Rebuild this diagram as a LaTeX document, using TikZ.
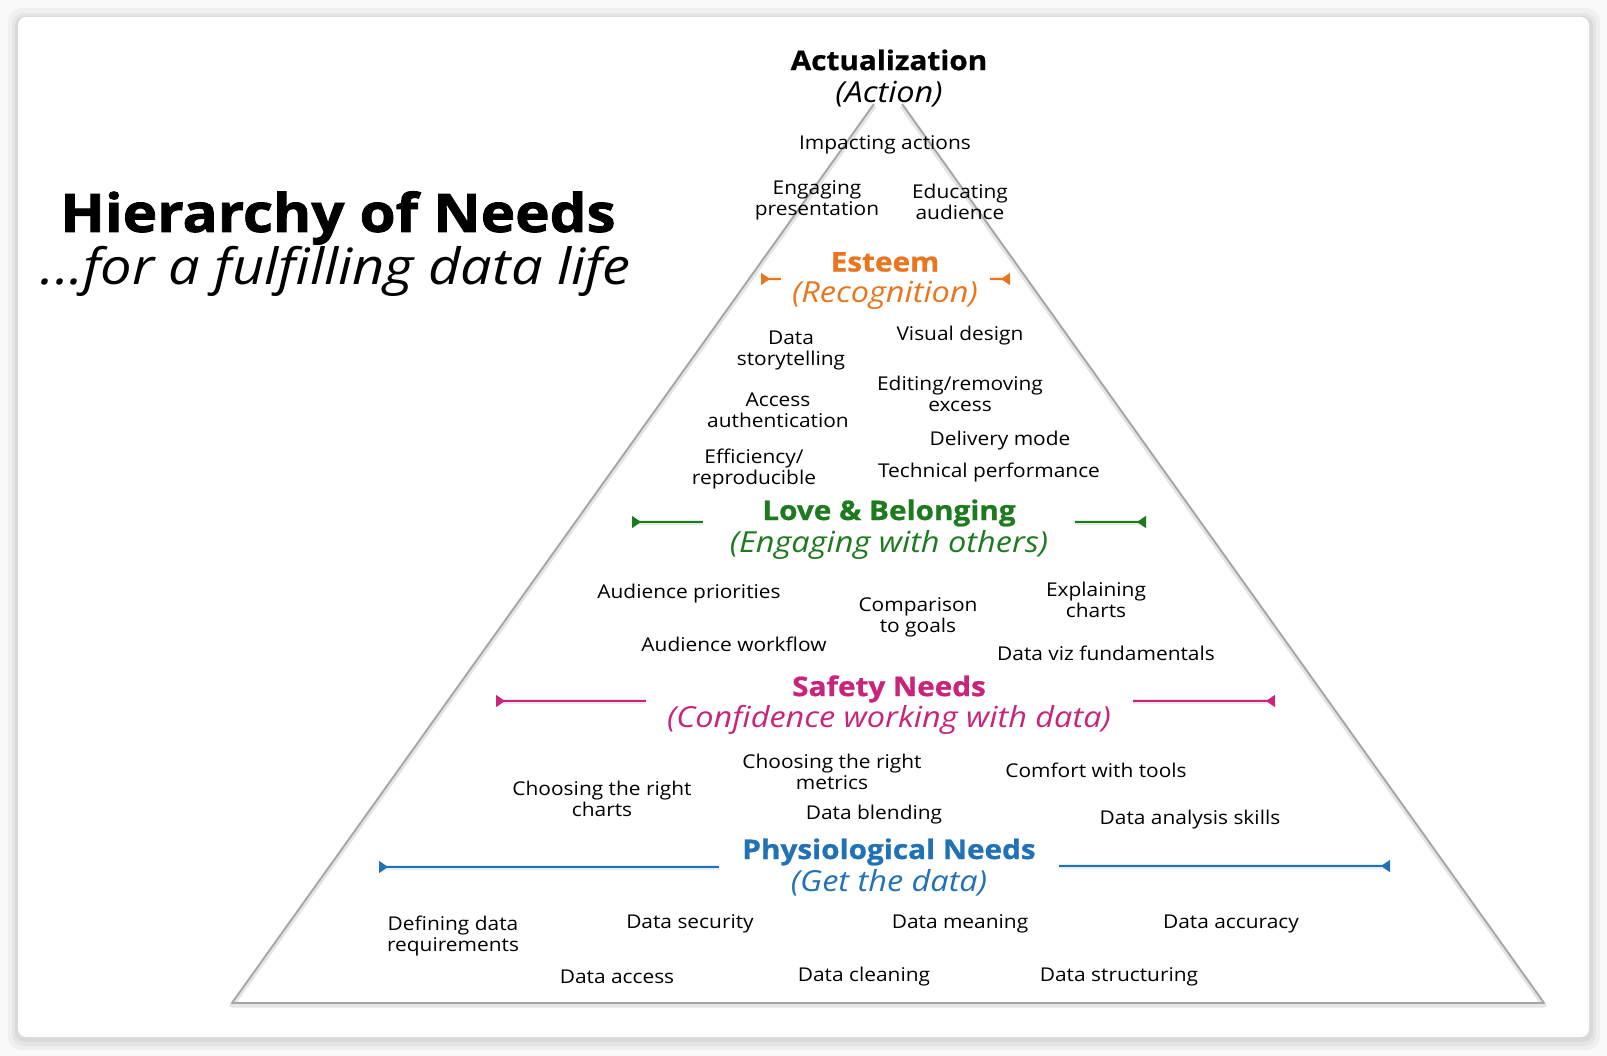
\documentclass[tikz,border=0pt]{standalone}
\usepackage{fontspec}
\setmainfont{Open Sans}[FakeStretch=1.1]
\newfontfamily\heavyfont{Open Sans}[FakeStretch=1.1, BoldFeatures={FakeBold=1.6}]
\newfontfamily\headfont{Open Sans}[FakeStretch=1.1, BoldFeatures={FakeBold=0.8}]
\newfontfamily\italfont{Open Sans}[FakeStretch=1.12]
\usetikzlibrary{arrows.meta}
\definecolor{cOrange}{HTML}{E8761E}
\definecolor{cGreen}{HTML}{1E7A1E}
\definecolor{cMagenta}{HTML}{C8247C}
\definecolor{cBlue}{HTML}{2171B5}
\tikzset{
  item/.style={align=center, inner sep=0pt, yshift=-3pt, font=\fontsize{19}{21}\selectfont, text=black},
  headbold/.style={inner sep=0pt, yshift=-3pt, font=\headfont\fontsize{27}{30}\selectfont\bfseries},
  headital/.style={inner sep=0pt, yshift=-3pt, font=\italfont\fontsize{29}{32}\selectfont\itshape},
  levelarrow/.style={line width=1.3pt},
  tipL/.style={{Triangle[reversed, length=9pt, width=12pt]}-},
  tipR/.style={-{Triangle[reversed, length=9pt, width=12pt]}},
  glow/.style={line width=5pt, opacity=0.12},
  edge/.style={draw=gray!70, line width=1.8pt, line join=round},
  edgeshadow/.style={draw=black, opacity=0.10, line width=5pt, line join=round},
}
\begin{document}
\begin{tikzpicture}[x=1pt,y=-1pt]
\useasboundingbox (0,0) rectangle (1607,1056);
% background and card
\fill[gray!5] (0,0) rectangle (1607,1056);
\fill[black, opacity=0.04, rounded corners=14pt] (8,8) rectangle (1600,1050);
\fill[black, opacity=0.04, rounded corners=12pt] (12,13) rectangle (1596,1046);
\fill[black, opacity=0.05, rounded corners=10pt] (15,16) rectangle (1593,1042);
\fill[white, rounded corners=8pt] (18,17) rectangle (1589,1037);

% pyramid
\coordinate (tl) at (874,104);
\coordinate (tr) at (902,104);
\coordinate (bl) at (232,1003);
\coordinate (br) at (1544,1003);
\draw[edgeshadow] ([yshift=-2pt]tl) -- ([yshift=-2pt]bl) -- ([yshift=-2pt]br) -- ([yshift=-2pt]tr);
\draw[edge] (tl) -- (bl) -- (br) -- (tr);

% title
\node[inner sep=0pt, font=\heavyfont\fontsize{53}{58}\selectfont\bfseries] (title) at (338,218) {Hierarchy of Needs};
\node[inner sep=0pt, font=\italfont\fontsize{50}{56}\selectfont\itshape] (subtitle) at (336,271) {...for a fulfilling data life};

% Actualization
\node[headbold, yshift=2pt] (act) at (889,59) {Actualization};
\node[headital] (acts) at (889,91) {(Action)};
\node[item] (impact) at (885,142) {Impacting actions};
\node[item] (engage) at (817,197) {Engaging\\presentation};
\node[item] (educ) at (960,199) {Educating\\audience};

% Esteem
\node[headbold, text=cOrange] (est) at (885,259) {Esteem};
\node[headital, text=cOrange] (ests) at (885,292) {(Recognition)};
\coordinate (eL1) at (761,279); \coordinate (eL2) at (781,279);
\coordinate (eR1) at (990,279); \coordinate (eR2) at (1010,279);
\draw[glow, cOrange] (eL1) -- (eL2);
\draw[glow, cOrange] (eR1) -- (eR2);
\draw[levelarrow, cOrange, tipL] (eL1) -- (eL2);
\draw[levelarrow, cOrange, tipR] (eR1) -- (eR2);
\node[item] (story) at (791,348) {Data\\storytelling};
\node[item] (visual) at (960,333) {Visual design};
\node[item] (access) at (778,407) {Access\\authentication};
\node[item] (editing) at (960,391) {Editing/removing\\excess};
\node[item] (delivery) at (1000,438) {Delivery mode};
\node[item] (effic) at (754,466) {Efficiency/\\reproducible};
\node[item] (tech) at (989,470) {Technical performance};

% Love & Belonging
\node[headbold, text=cGreen] (love) at (889,510) {Love \& Belonging};
\node[headital, text=cGreen] (loves) at (889,542) {(Engaging with others)};
\coordinate (gL1) at (632,522); \coordinate (gL2) at (703,522);
\coordinate (gR1) at (1075,522); \coordinate (gR2) at (1146,522);
\draw[glow, cGreen] (gL1) -- (gL2);
\draw[glow, cGreen] (gR1) -- (gR2);
\draw[levelarrow, cGreen, tipL] (gL1) -- (gL2);
\draw[levelarrow, cGreen, tipR] (gR1) -- (gR2);
\node[item] (audprio) at (689,591) {Audience priorities};
\node[item] (compar) at (918,614) {Comparison\\to goals};
\node[item] (explain) at (1096,597) {Explaining\\charts};
\node[item] (audwork) at (734,641) {Audience workflow};
\node[item] (vizfund) at (1106,650) {Data viz fundamentals};

% Safety Needs
\node[headbold, text=cMagenta] (safe) at (889,686) {Safety Needs};
\node[headital, text=cMagenta] (safes) at (889,717) {(Confidence working with data)};
\coordinate (mL1) at (496,701); \coordinate (mL2) at (646,701);
\coordinate (mR1) at (1133,701); \coordinate (mR2) at (1275,701);
\draw[glow, cMagenta] (mL1) -- (mL2);
\draw[glow, cMagenta] (mR1) -- (mR2);
\draw[levelarrow, cMagenta, tipL] (mL1) -- (mL2);
\draw[levelarrow, cMagenta, tipR] (mR1) -- (mR2);
\node[item] (metrics) at (832,769) {Choosing the right\\metrics};
\node[item] (comfort) at (1096,767) {Comfort with tools};
\node[item] (charts) at (602,796) {Choosing the right\\charts};
\node[item] (blend) at (874,812) {Data blending};
\node[item] (analysis) at (1190,817) {Data analysis skills};

% Physiological Needs
\node[headbold, text=cBlue] (phys) at (889,849) {Physiological Needs};
\node[headital, text=cBlue] (physs) at (889,880) {(Get the data)};
\coordinate (bL1) at (379,867); \coordinate (bL2) at (719,867);
\coordinate (bR1) at (1059,866); \coordinate (bR2) at (1390,866);
\draw[glow, cBlue] (bL1) -- (bL2);
\draw[glow, cBlue] (bR1) -- (bR2);
\draw[levelarrow, cBlue, tipL] (bL1) -- (bL2);
\draw[levelarrow, cBlue, tipR] (bR1) -- (bR2);
\node[item] (defining) at (453,933) {Defining data\\requirements};
\node[item] (security) at (690,921) {Data security};
\node[item] (meaning) at (960,921) {Data meaning};
\node[item] (accuracy) at (1231,921) {Data accuracy};
\node[item] (daccess) at (617,974) {Data access};
\node[item] (cleaning) at (864,974) {Data cleaning};
\node[item] (struct) at (1119,974) {Data structuring};
\end{tikzpicture}
\end{document}
